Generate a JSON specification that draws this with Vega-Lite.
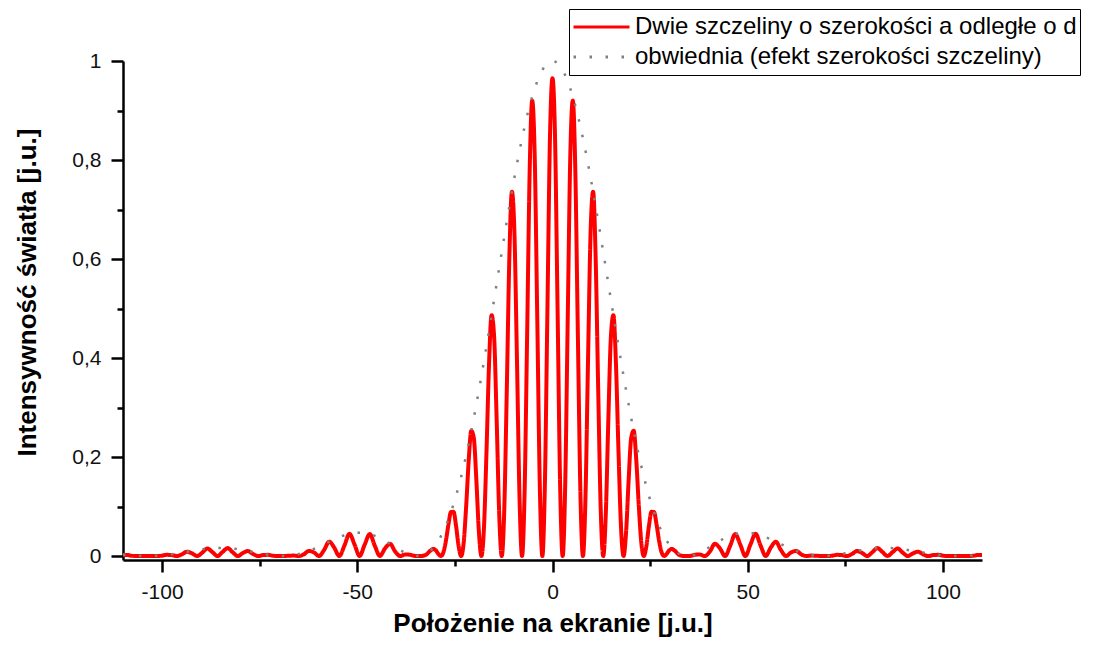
{
"$schema":"https://vega.github.io/schema/vega-lite/v6.json",
"width":859,"height":499,
"autosize":"none",
"padding":{"left":123,"top":61,"right":113,"bottom":90},
"background":"white",
"config":{"view":{"stroke":null},"font":"Liberation Sans",
"axis":{"domainColor":"#000","tickColor":"#000","labelColor":"#111","titleColor":"#000","grid":false,"domainWidth":2.5,"tickWidth":2.5,"labelFont":"Liberation Sans","labelFontSize":21,"titleFont":"Liberation Sans","titleFontSize":26,"titleFontWeight":"bold"},
"legend":{"orient":"none","legendX":446,"legendY":-52,"labelFontSize":24,"labelFont":"Liberation Sans","labelColor":"#000","symbolType":"stroke","symbolSize":3136,"symbolStrokeWidth":3,"strokeColor":"#000","fillColor":"#fff","padding":3,"rowPadding":0,"clipHeight":30,"labelOffset":4,"labelLimit":1000}},
"data":{"values":[
{"x":-110,"I":0.0022,"E":0.0029},{"x":-109.2,"I":0.0023,"E":0.0023},{"x":-107.9,"I":0.0007,"E":0.0014},{"x":-106.6,"I":0,"E":0.0007},{"x":-105.3,"I":0.0001,"E":0.0002},{"x":-104,"I":0,"E":0},{"x":-102.7,"I":0.0001,"E":0.0001},{"x":-101.4,"I":0,"E":0.0006},{"x":-100.1,"I":0.0007,"E":0.0013},{"x":-98.8,"I":0.0024,"E":0.0024},{"x":-97.5,"I":0.0019,"E":0.0037},{"x":-96.2,"I":0,"E":0.0053},{"x":-94.9,"I":0.0035,"E":0.007},{"x":-93.6,"I":0.0088,"E":0.0088},{"x":-92.3,"I":0.0053,"E":0.0106},{"x":-91,"I":0,"E":0.0123},{"x":-89.7,"I":0.0069,"E":0.0138},{"x":-88.4,"I":0.0151,"E":0.0151},{"x":-87.1,"I":0.008,"E":0.0159},{"x":-85.8,"I":0,"E":0.0164},{"x":-84.5,"I":0.0082,"E":0.0164},{"x":-83.2,"I":0.016,"E":0.016},{"x":-81.9,"I":0.0076,"E":0.0151},{"x":-80.6,"I":0,"E":0.0138},{"x":-79.3,"I":0.0061,"E":0.0122},{"x":-78,"I":0.0102,"E":0.0102},{"x":-76.7,"I":0.0041,"E":0.0082},{"x":-75.4,"I":0,"E":0.0061},{"x":-74.1,"I":0.002,"E":0.0041},{"x":-72.8,"I":0.0024,"E":0.0024},{"x":-71.5,"I":0.0005,"E":0.001},{"x":-70.2,"I":0,"E":0.0002},{"x":-68.9,"I":0,"E":0},{"x":-67.6,"I":0.0006,"E":0.0006},{"x":-66.3,"I":0.0009,"E":0.0019},{"x":-65,"I":0,"E":0.004},{"x":-63.7,"I":0.0034,"E":0.0069},{"x":-62.4,"I":0.0104,"E":0.0104},{"x":-61.1,"I":0.0073,"E":0.0146},{"x":-59.8,"I":0,"E":0.0193},{"x":-58.5,"I":0.0121,"E":0.0242},{"x":-57.2,"I":0.0291,"E":0.0291},{"x":-55.9,"I":0.017,"E":0.0339},{"x":-54.6,"I":0,"E":0.0383},{"x":-53.3,"I":0.021,"E":0.042},{"x":-52,"I":0.0449,"E":0.0449},{"x":-50.7,"I":0.0233,"E":0.0466},{"x":-49.4,"I":0,"E":0.0472},{"x":-48.1,"I":0.0232,"E":0.0464},{"x":-46.8,"I":0.0443,"E":0.0443},{"x":-45.5,"I":0.0205,"E":0.0409},{"x":-44.2,"I":0,"E":0.0364},{"x":-42.9,"I":0.0154,"E":0.0309},{"x":-41.6,"I":0.0247,"E":0.0247},{"x":-40.3,"I":0.0091,"E":0.0183},{"x":-39,"I":0,"E":0.0121},{"x":-37.7,"I":0.0033,"E":0.0066},{"x":-36.4,"I":0.0024,"E":0.0024},{"x":-35.1,"I":0.0001,"E":0.0002},{"x":-33.8,"I":0,"E":0.0006},{"x":-32.5,"I":0.0021,"E":0.0041},
{"x":-31.2,"I":0.0115,"E":0.0115},{"x":-30.55,"I":0.0143,"E":0.0168},{"x":-29.9,"I":0.0116,"E":0.0232},{"x":-29.25,"I":0.0045,"E":0.0309},{"x":-28.6,"I":0,"E":0.0398},{"x":-27.95,"I":0.0073,"E":0.0501},{"x":-27.3,"I":0.0308,"E":0.0616},{"x":-26.65,"I":0.0637,"E":0.0746},{"x":-26,"I":0.0889,"E":0.0889},{"x":-25.35,"I":0.0893,"E":0.1046},{"x":-24.7,"I":0.0609,"E":0.1217},{"x":-24.05,"I":0.0205,"E":0.1403},{"x":-23.4,"I":0,"E":0.1602},{"x":-22.75,"I":0.0266,"E":0.1815},{"x":-22.1,"I":0.102,"E":0.2041},{"x":-21.45,"I":0.1945,"E":0.2279},{"x":-20.8,"I":0.253,"E":0.253},{"x":-20.15,"I":0.2383,"E":0.2792},{"x":-19.5,"I":0.1532,"E":0.3064},{"x":-18.85,"I":0.049,"E":0.3346},{"x":-18.2,"I":0,"E":0.3637},{"x":-17.55,"I":0.0576,"E":0.3936},{"x":-16.9,"I":0.2121,"E":0.4241},{"x":-16.25,"I":0.3885,"E":0.4552},{"x":-15.6,"I":0.4866,"E":0.4866},{"x":-14.95,"I":0.4425,"E":0.5184},{"x":-14.3,"I":0.2751,"E":0.5502},{"x":-13.65,"I":0.0852,"E":0.5821},{"x":-13,"I":0,"E":0.6138},{"x":-12.35,"I":0.0945,"E":0.6452},{"x":-11.7,"I":0.338,"E":0.6761},{"x":-11.05,"I":0.6029,"E":0.7064},{"x":-10.4,"I":0.7359,"E":0.7359},{"x":-9.75,"I":0.6526,"E":0.7646},{"x":-9.1,"I":0.3961,"E":0.7922},{"x":-8.45,"I":0.1199,"E":0.8186},{"x":-7.8,"I":0,"E":0.8436},{"x":-7.15,"I":0.127,"E":0.8672},{"x":-6.5,"I":0.4446,"E":0.8892},{"x":-5.85,"I":0.7762,"E":0.9094},{"x":-5.2,"I":0.92,"E":0.9279},{"x":-4.55,"I":0.8061,"E":0.9444},{"x":-3.9,"I":0.4795,"E":0.9589},{"x":-3.25,"I":0.1422,"E":0.9713},{"x":-2.6,"I":0,"E":0.9816},{"x":-1.95,"I":0.1449,"E":0.9896},{"x":-1.3,"I":0.4977,"E":0.9954},{"x":-0.65,"I":0.845,"E":0.9988},
{"x":0,"I":0.965,"E":1},
{"x":0.65,"I":0.845,"E":0.9988},{"x":1.3,"I":0.4977,"E":0.9954},{"x":1.95,"I":0.1449,"E":0.9896},{"x":2.6,"I":0,"E":0.9816},{"x":3.25,"I":0.1422,"E":0.9713},{"x":3.9,"I":0.4795,"E":0.9589},{"x":4.55,"I":0.8061,"E":0.9444},{"x":5.2,"I":0.92,"E":0.9279},{"x":5.85,"I":0.7762,"E":0.9094},{"x":6.5,"I":0.4446,"E":0.8892},{"x":7.15,"I":0.127,"E":0.8672},{"x":7.8,"I":0,"E":0.8436},{"x":8.45,"I":0.1199,"E":0.8186},{"x":9.1,"I":0.3961,"E":0.7922},{"x":9.75,"I":0.6526,"E":0.7646},{"x":10.4,"I":0.7359,"E":0.7359},{"x":11.05,"I":0.6029,"E":0.7064},{"x":11.7,"I":0.338,"E":0.6761},{"x":12.35,"I":0.0945,"E":0.6452},{"x":13,"I":0,"E":0.6138},{"x":13.65,"I":0.0852,"E":0.5821},{"x":14.3,"I":0.2751,"E":0.5502},{"x":14.95,"I":0.4425,"E":0.5184},{"x":15.6,"I":0.4866,"E":0.4866},{"x":16.25,"I":0.3885,"E":0.4552},{"x":16.9,"I":0.2121,"E":0.4241},{"x":17.55,"I":0.0576,"E":0.3936},{"x":18.2,"I":0,"E":0.3637},{"x":18.85,"I":0.049,"E":0.3346},{"x":19.5,"I":0.1532,"E":0.3064},{"x":20.15,"I":0.2383,"E":0.2792},{"x":20.8,"I":0.253,"E":0.253},{"x":21.45,"I":0.1945,"E":0.2279},{"x":22.1,"I":0.102,"E":0.2041},{"x":22.75,"I":0.0266,"E":0.1815},{"x":23.4,"I":0,"E":0.1602},{"x":24.05,"I":0.0205,"E":0.1403},{"x":24.7,"I":0.0609,"E":0.1217},{"x":25.35,"I":0.0893,"E":0.1046},{"x":26,"I":0.0889,"E":0.0889},{"x":26.65,"I":0.0637,"E":0.0746},{"x":27.3,"I":0.0308,"E":0.0616},{"x":27.95,"I":0.0073,"E":0.0501},{"x":28.6,"I":0,"E":0.0398},{"x":29.25,"I":0.0045,"E":0.0309},{"x":29.9,"I":0.0116,"E":0.0232},{"x":30.55,"I":0.0143,"E":0.0168},{"x":31.2,"I":0.0115,"E":0.0115},
{"x":32.5,"I":0.0021,"E":0.0041},{"x":33.8,"I":0,"E":0.0006},{"x":35.1,"I":0.0001,"E":0.0002},{"x":36.4,"I":0.0024,"E":0.0024},{"x":37.7,"I":0.0033,"E":0.0066},{"x":39,"I":0,"E":0.0121},{"x":40.3,"I":0.0091,"E":0.0183},{"x":41.6,"I":0.0247,"E":0.0247},{"x":42.9,"I":0.0154,"E":0.0309},{"x":44.2,"I":0,"E":0.0364},{"x":45.5,"I":0.0205,"E":0.0409},{"x":46.8,"I":0.0443,"E":0.0443},{"x":48.1,"I":0.0232,"E":0.0464},{"x":49.4,"I":0,"E":0.0472},{"x":50.7,"I":0.0233,"E":0.0466},{"x":52,"I":0.0449,"E":0.0449},{"x":53.3,"I":0.021,"E":0.042},{"x":54.6,"I":0,"E":0.0383},{"x":55.9,"I":0.017,"E":0.0339},{"x":57.2,"I":0.0291,"E":0.0291},{"x":58.5,"I":0.0121,"E":0.0242},{"x":59.8,"I":0,"E":0.0193},{"x":61.1,"I":0.0073,"E":0.0146},{"x":62.4,"I":0.0104,"E":0.0104},{"x":63.7,"I":0.0034,"E":0.0069},{"x":65,"I":0,"E":0.004},{"x":66.3,"I":0.0009,"E":0.0019},{"x":67.6,"I":0.0006,"E":0.0006},{"x":68.9,"I":0,"E":0},{"x":70.2,"I":0,"E":0.0002},{"x":71.5,"I":0.0005,"E":0.001},{"x":72.8,"I":0.0024,"E":0.0024},{"x":74.1,"I":0.002,"E":0.0041},{"x":75.4,"I":0,"E":0.0061},{"x":76.7,"I":0.0041,"E":0.0082},{"x":78,"I":0.0102,"E":0.0102},{"x":79.3,"I":0.0061,"E":0.0122},{"x":80.6,"I":0,"E":0.0138},{"x":81.9,"I":0.0076,"E":0.0151},{"x":83.2,"I":0.016,"E":0.016},{"x":84.5,"I":0.0082,"E":0.0164},{"x":85.8,"I":0,"E":0.0164},{"x":87.1,"I":0.008,"E":0.0159},{"x":88.4,"I":0.0151,"E":0.0151},{"x":89.7,"I":0.0069,"E":0.0138},{"x":91,"I":0,"E":0.0123},{"x":92.3,"I":0.0053,"E":0.0106},{"x":93.6,"I":0.0088,"E":0.0088},{"x":94.9,"I":0.0035,"E":0.007},{"x":96.2,"I":0,"E":0.0053},{"x":97.5,"I":0.0019,"E":0.0037},{"x":98.8,"I":0.0024,"E":0.0024},{"x":100.1,"I":0.0007,"E":0.0013},{"x":101.4,"I":0,"E":0.0006},{"x":102.7,"I":0.0001,"E":0.0001},{"x":104,"I":0,"E":0},{"x":105.3,"I":0.0001,"E":0.0002},{"x":106.6,"I":0,"E":0.0007},{"x":107.9,"I":0.0007,"E":0.0014},{"x":109.2,"I":0.0023,"E":0.0023},{"x":110,"I":0.0022,"E":0.0029}
]},
"transform":[{"fold":["I","E"],"as":["s","v"]}],
"encoding":{
"x":{"field":"x","type":"quantitative","scale":{"domain":[-110,110],"nice":false,"zero":false},
 "axis":{"values":[-100,-75,-50,-25,0,25,50,75,100],"labelExpr":"datum.value % 50 == 0 ? replace(datum.label,'−','-') : ''","tickSize":{"condition":{"test":"datum.value % 50 != 0","value":6},"value":12},"title":"Położenie na ekranie [j.u.]","labelPadding":9,"titlePadding":8}},
"y":{"field":"v","type":"quantitative","scale":{"domain":[-0.008,1],"nice":false,"zero":false},
 "axis":{"values":[0,0.1,0.2,0.3,0.4,0.5,0.6,0.7,0.8,0.9,1],"format":"~g","labelExpr":"round(datum.value*10)%2==0 ? replace(datum.label,'.',',') : ''","tickSize":{"condition":{"test":"round(datum.value*10)%2==1","value":6},"value":12},"title":"Intensywność światła [j.u.]","labelPadding":10,"titleX":-83,"titleY":231,"titleBaseline":"bottom","titleAngle":-90}},
"color":{"field":"s","type":"nominal","scale":{"domain":["I","E"],"range":["#ff0000","#808080"]},
 "legend":{"title":null,"labelExpr":"datum.value == 'I' ? 'Dwie szczeliny o szerokości a odległe o d' : 'obwiednia (efekt szerokości szczeliny)'"}},
"strokeDash":{"field":"s","type":"nominal","scale":{"domain":["I","E"],"range":[[1,0],[2.5,13.5]]},
 "legend":{"title":null,"labelExpr":"datum.value == 'I' ? 'Dwie szczeliny o szerokości a odległe o d' : 'obwiednia (efekt szerokości szczeliny)'"}}
},
"layer":[
{"transform":[{"filter":"datum.s == 'I'"}],"mark":{"type":"line","interpolate":"monotone","strokeWidth":4}},
{"transform":[{"filter":"datum.s == 'E'"}],"mark":{"type":"line","interpolate":"monotone","strokeWidth":2.5}}
]
}
